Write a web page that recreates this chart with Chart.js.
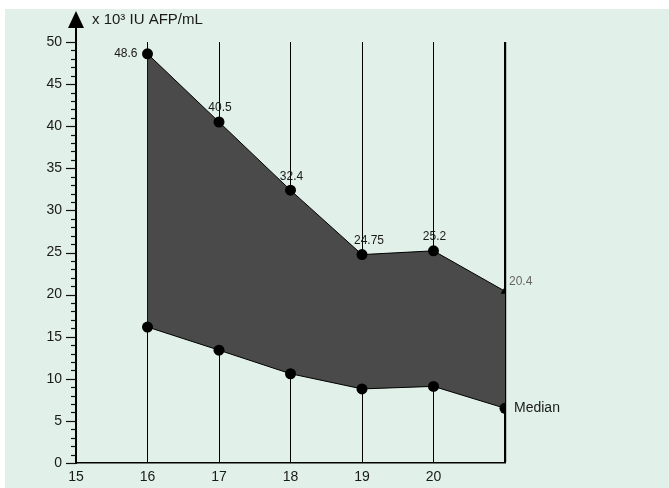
<!DOCTYPE html>
<html>
<head>
<meta charset="utf-8">
<script src="https://cdn.jsdelivr.net/npm/chart.js@4.4.0/dist/chart.umd.min.js"></script>
<style>
  html, body { margin: 0; padding: 0; background: #ffffff; }
  #wrap { width: 669px; height: 488px; position: relative; }
</style>
</head>
<body>
<div id="wrap"><canvas id="c" width="669" height="488"></canvas></div>
<script>
// Gestational weeks and AFP values (x 10^3 IU/mL)
const weeks = [16, 17, 18, 19, 20, 21];
const upperValues = [48.6, 40.5, 32.4, 24.75, 25.2, 20.4];
const medianValues = [16.15, 13.4, 10.6, 8.8, 9.1, 6.5];
const upperLabels = ['48.6', '40.5', '32.4', '24.75', '25.2', '20.4'];
const xTickLabels = ['15', '16', '17', '18', '19', '20'];
const yAxisTitle = 'x 10\u00B3 IU AFP/mL';
const medianText = 'Median';

const FONT = '"Liberation Sans", Arial, Helvetica, sans-serif';

const toPoints = vals => weeks.map((w, i) => ({ x: w, y: vals[i] }));

// Panel background, y-axis arrow, minor/major ticks and text annotations
const decor = {
  id: 'decor',
  beforeDraw(chart) {
    const { ctx } = chart;
    ctx.save();
    ctx.fillStyle = '#e1f0e9';
    ctx.fillRect(5, 9, chart.width - 5, chart.height - 9);
    ctx.restore();
  },
  afterDraw(chart) {
    const { ctx, chartArea, scales } = chart;
    const ys = scales.y;
    const xAxisX = chartArea.left;
    ctx.save();
    // y-axis ticks: long every 5, short every 1
    ctx.strokeStyle = '#111';
    ctx.lineWidth = 1.2;
    for (let v = 0; v <= 50; v++) {
      const py = Math.round(ys.getPixelForValue(v)) + 0.5;
      const len = v % 5 === 0 ? 10 : 5;
      ctx.beginPath();
      ctx.moveTo(xAxisX - len, py);
      ctx.lineTo(xAxisX, py);
      ctx.stroke();
    }
    // y-axis extension and arrow head
    ctx.strokeStyle = '#000';
    ctx.lineWidth = 2;
    ctx.beginPath();
    ctx.moveTo(xAxisX, chartArea.top);
    ctx.lineTo(xAxisX, 24);
    ctx.stroke();
    ctx.fillStyle = '#000';
    ctx.beginPath();
    ctx.moveTo(xAxisX, 11);
    ctx.lineTo(xAxisX - 8, 28);
    ctx.lineTo(xAxisX + 8, 28);
    ctx.closePath();
    ctx.fill();
    // axis title
    ctx.font = '15px ' + FONT;
    ctx.fillStyle = '#1a1a1a';
    ctx.textAlign = 'left';
    ctx.textBaseline = 'middle';
    ctx.fillText(yAxisTitle, 92, 20);

    // value labels on the upper line
    const meta = chart.getDatasetMeta(0);
    ctx.font = '12px ' + FONT;
    meta.data.forEach((pt, i) => {
      const t = upperLabels[i];
      if (i === 0) {
        ctx.textAlign = 'right';
        ctx.fillStyle = '#1a1a1a';
        ctx.fillText(t, pt.x - 10, pt.y);
      } else if (i === meta.data.length - 1) {
        ctx.textAlign = 'left';
        ctx.fillStyle = '#666';
        ctx.fillText(t, pt.x + 4, pt.y - 10);
      } else {
        ctx.textAlign = 'center';
        ctx.fillStyle = '#1a1a1a';
        ctx.fillText(t, pt.x + (i === 3 ? 7 : 1), pt.y - 14);
      }
    });

    // label for the median line
    const mMeta = chart.getDatasetMeta(1);
    const last = mMeta.data[mMeta.data.length - 1];
    ctx.font = '14px ' + FONT;
    ctx.fillStyle = '#1a1a1a';
    ctx.textAlign = 'left';
    ctx.fillText(medianText, last.x + 9, last.y);
    ctx.restore();
  }
};

new Chart(document.getElementById('c'), {
  type: 'line',
  data: {
    datasets: [
      {
        // upper bound, filled down to the median line; drawn first
        order: 2,
        data: toPoints(upperValues),
        borderColor: '#000',
        borderWidth: 1,
        backgroundColor: '#4a4a4a',
        fill: '+1',
        tension: 0,
        pointStyle: weeks.map((w, i) => i === weeks.length - 1 ? 'triangle' : 'circle'),
        pointRadius: weeks.map((w, i) => i === weeks.length - 1 ? 5 : 5.5),
        pointBackgroundColor: '#000',
        pointBorderColor: '#000',
        pointBorderWidth: 0
      },
      {
        // median line, drawn on top of the band
        order: 1,
        data: toPoints(medianValues),
        borderColor: '#000',
        borderWidth: 1,
        backgroundColor: '#4a4a4a',
        fill: false,
        tension: 0,
        pointRadius: 5.5,
        pointBackgroundColor: '#000',
        pointBorderColor: '#000',
        pointBorderWidth: 0
      }
    ]
  },
  options: {
    responsive: false,
    animation: false,
    events: [],
    layout: { padding: { left: 0, top: 42, right: 164, bottom: 0 } },
    plugins: { legend: { display: false }, tooltip: { enabled: false } },
    scales: {
      x: {
        type: 'linear',
        min: 15,
        max: 21,
        afterFit(scale) { scale.height = 25; },
        border: { display: true, color: '#000', width: 1.5 },
        grid: {
          drawOnChartArea: true,
          drawTicks: false,
          color: ctx => (ctx.tick && ctx.tick.value === 15) ? 'rgba(0,0,0,0)' : '#000',
          lineWidth: ctx => (ctx.tick && ctx.tick.value === 21) ? 2.2 : 1
        },
        ticks: {
          stepSize: 1,
          padding: 6,
          color: '#1a1a1a',
          font: { family: FONT, size: 14 },
          callback: v => xTickLabels.includes(String(v)) ? String(v) : ''
        }
      },
      y: {
        min: 0,
        max: 50,
        afterFit(scale) { scale.width = 76; },
        border: { display: true, color: '#000', width: 2 },
        grid: { drawOnChartArea: false, drawTicks: false },
        ticks: {
          stepSize: 5,
          padding: 14,
          color: '#1a1a1a',
          font: { family: FONT, size: 14 }
        }
      }
    }
  },
  plugins: [decor]
});
</script>
</body>
</html>
